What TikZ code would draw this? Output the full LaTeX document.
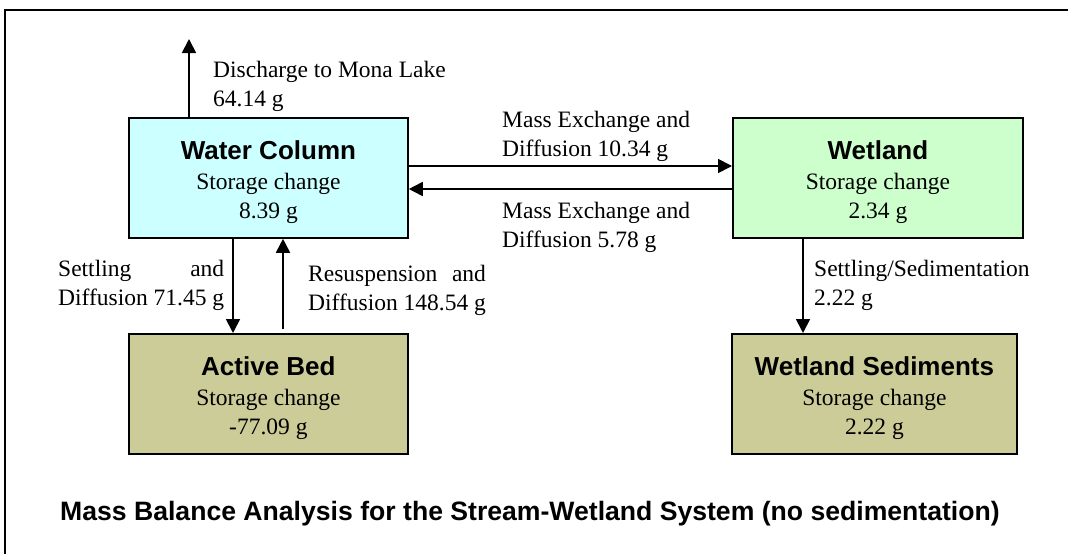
\documentclass[tikz,border=0pt]{standalone}
\usepackage{fontspec}
\setmainfont{Liberation Serif}
\setsansfont{Liberation Sans}
\usepackage{tikz}
\usetikzlibrary{arrows.meta,positioning,calc}

\definecolor{watercol}{HTML}{CCFFFF}
\definecolor{wetcol}{HTML}{CCFFCC}
\definecolor{bedcol}{HTML}{CCCC99}

\tikzset{
  store/.style={draw=black,line width=1.8pt,minimum width=279pt,minimum height=120pt,
    inner sep=0pt,align=center,font=\fontsize{23.5}{29}\selectfont},
  flow/.style={line width=1.8pt,-{Triangle[length=14pt,width=14pt]}},
  flowlbl/.style={inner sep=0pt,anchor=base west,align=left,font=\fontsize{23.5}{29}\selectfont},
}
% bold heading line of a store box
\newcommand{\boxhead}[1]{\rule{0pt}{27pt}{\sffamily\bfseries\fontsize{26}{29}\selectfont #1}\\[1pt]}
% spread a first line out to the width of the line below it
\newcommand{\spreadas}[2]{\setbox0=\hbox{#2}\hbox to \wd0{#1}}

\begin{document}
\begin{tikzpicture}[x=1pt,y=-1pt]
\useasboundingbox (0,0) rectangle (1068,554);
% frame
\draw[line width=2pt] (5,554) -- (5,10) -- (1068,10);

% the four stores
\node[store,fill=watercol,anchor=north west] (wc) at (128,117)
  {\boxhead{Water Column}Storage change\\8.39 g};
\node[store,fill=wetcol,anchor=north west,minimum width=290pt] (wl) at (732,117)
  {\boxhead{Wetland}Storage change\\2.34 g};
\node[store,fill=bedcol,anchor=north west] (bed) at (128,333)
  {\boxhead{Active Bed}Storage change\\-77.09 g};
\node[store,fill=bedcol,anchor=north west,minimum width=285pt] (sed) at (731,333)
  {\boxhead{Wetland Sediments}Storage change\\2.22 g};

% flows
\coordinate (lake) at (189,39);
\coordinate (ex1) at (0,166);
\coordinate (ex2) at (0,189);
\coordinate (set) at (233,0);
\coordinate (res) at (283,0);
\coordinate (wset) at (803,0);
\draw[flow] (wc.north -| lake) -- (lake);
\draw[flow] (wc.east |- ex1) -- (wl.west |- ex1);
\draw[flow] (wl.west |- ex2) -- (wc.east |- ex2);
\draw[flow] (wc.south -| set) -- (bed.north -| set);
\draw[flow] ($(bed.north -| res)+(0,-4)$) -- (wc.south -| res);
\draw[flow] (wl.south -| wset) -- (sed.north -| wset);

% flow labels (placed at the baseline of their last line)
\node[flowlbl] (lbllake) at (213,106) {Discharge to Mona Lake\\64.14 g};
\node[flowlbl] (lblex1) at (502,156) {Mass Exchange and\\Diffusion 10.34 g};
\node[flowlbl] (lblex2) at (502,247) {Mass Exchange and\\Diffusion 5.78 g};
\node[flowlbl] (lblset) at (58,305)
  {\spreadas{Settling\hfil and}{Diffusion 71.45 g}\\Diffusion 71.45 g};
\node[flowlbl] (lblres) at (308,310)
  {\spreadas{Resuspension\hfil and}{Diffusion 148.54 g}\\Diffusion 148.54 g};
\node[flowlbl] (lblwset) at (814,305) {Settling/Sedimentation\\2.22 g};

% caption
\node[inner sep=0pt,anchor=base,font=\sffamily\bfseries\fontsize{26.6}{30}\selectfont] (title)
  at (530,520) {Mass Balance Analysis for the Stream-Wetland System (no sedimentation)};
\end{tikzpicture}
\end{document}
